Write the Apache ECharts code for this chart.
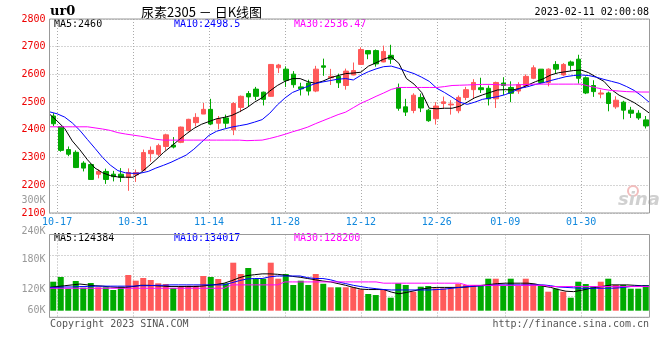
<!DOCTYPE html>
<html><head><meta charset="utf-8">
<script src="https://cdn.jsdelivr.net/npm/echarts@6/dist/echarts.min.js"></script>
<style>html,body{margin:0;padding:0;background:#fff}#c{width:660px;height:360px}</style>
</head><body><div id="c"></div>
<script>
const dates = ['10-14','10-17','10-18','10-19','10-20','10-21','10-24','10-25','10-26','10-27','10-28',
'10-31','11-01','11-02','11-03','11-04','11-07','11-08','11-09','11-10','11-11',
'11-14','11-15','11-16','11-17','11-18','11-21','11-22','11-23','11-24','11-25',
'11-28','11-29','11-30','12-01','12-02','12-05','12-06','12-07','12-08','12-09',
'12-12','12-13','12-14','12-15','12-16','12-19','12-20','12-21','12-22','12-23',
'12-26','12-27','12-28','12-29','12-30','01-03','01-04','01-05','01-06',
'01-09','01-10','01-11','01-12','01-13','01-16','01-17','01-18','01-19','01-20',
'01-30','01-31','02-01','02-02','02-03','02-06','02-07','02-08','02-09','02-10'];
const dateLabels = ['10-17','10-31','11-14','11-28','12-12','12-26','01-09','01-30'];

const opens  = [2450,2412,2329,2319,2280,2275,2240,2250,2240,2240, 2229,2238,2254,2314,2312,2340,2345,2355,2397,2426,
                2457,2474,2424,2443,2400,2481,2531,2547,2536,2521, 2624,2619,2601,2555,2569,2540,2631,2588,2593,2560,
                2598,2636,2686,2686,2645,2669,2552,2483,2470,2517, 2471,2440,2495,2490,2469,2517,2545,2552,2550,2512,
                2569,2553,2540,2560,2586,2619,2571,2636,2598,2645, 2655,2588,2560,2529,2533,2483,2500,2471,2460,2436];
const closes = [2422,2326,2312,2264,2262,2221,2250,2221,2231,2229, 2246,2246,2318,2326,2343,2382,2338,2410,2438,2445,
                2474,2421,2440,2424,2495,2521,2519,2521,2510,2636, 2634,2579,2563,2548,2540,2619,2626,2593,2570,2612,
                2614,2690,2674,2638,2683,2655,2478,2464,2525,2479, 2433,2486,2501,2493,2517,2545,2571,2545,2512,2571,
                2560,2532,2563,2593,2624,2571,2619,2619,2636,2633, 2586,2533,2538,2533,2495,2507,2471,2460,2443,2414];
const lows   = [2414,2321,2305,2262,2250,2220,2225,2205,2214,2212, 2180,2212,2251,2285,2305,2326,2333,2352,2395,2412,
                2457,2417,2402,2407,2381,2464,2486,2507,2488,2520, 2605,2555,2552,2524,2524,2536,2595,2562,2551,2545,
                2597,2634,2655,2628,2644,2638,2469,2450,2460,2464, 2429,2419,2477,2455,2460,2507,2512,2533,2488,2479,
                2526,2500,2530,2552,2583,2567,2557,2602,2595,2614, 2567,2529,2519,2514,2467,2476,2438,2443,2436,2405];
const highs  = [2460,2414,2340,2326,2287,2279,2257,2260,2252,2262, 2261,2257,2329,2340,2350,2386,2374,2412,2440,2460,
                2497,2512,2450,2455,2500,2524,2540,2555,2538,2637, 2638,2629,2612,2570,2581,2631,2657,2620,2603,2621,
                2643,2698,2688,2690,2704,2707,2567,2512,2532,2531, 2476,2500,2520,2507,2524,2555,2583,2588,2560,2574,
                2590,2575,2572,2600,2633,2619,2622,2648,2641,2650, 2671,2593,2579,2545,2538,2521,2505,2483,2471,2450];

const ma5  = [2457,2432,2405,2360,2328,2292,2262,2245,2235,2230, 2229,2229,2245,2268,2292,2318,2340,2363,2385,2405,
              2420,2430,2440,2445,2452,2465,2480,2500,2516,2540, 2560,2575,2585,2585,2574,2568,2576,2588,2596,2603,
              2605,2608,2630,2642,2655,2664,2640,2585,2565,2535, 2478,2476,2478,2478,2485,2500,2516,2526,2535,2544,
              2545,2544,2550,2562,2574,2584,2598,2606,2610,2614, 2616,2606,2590,2575,2545,2525,2512,2498,2480,2460];
const ma10 = [2465,2458,2446,2425,2398,2365,2333,2300,2273,2253, 2245,2243,2244,2250,2262,2272,2283,2296,2309,2330,
              2355,2380,2395,2403,2410,2415,2420,2428,2437,2460, 2490,2515,2535,2546,2557,2567,2573,2578,2583,2585,
              2580,2597,2610,2620,2628,2630,2622,2612,2603,2590, 2575,2550,2535,2518,2500,2492,2500,2510,2515,2520,
              2527,2538,2550,2556,2564,2570,2578,2585,2592,2596, 2598,2596,2590,2582,2575,2568,2556,2542,2522,2498.5];
const ma30 = [2411,2411,2411,2411,2411,2411,2407,2403,2398,2390, 2385,2381,2377,2372,2366,2363,2363,2363,2363,2363,
              2363,2363,2363,2363,2363,2363,2361,2362,2363,2369, 2376,2384,2393,2401,2410,2422,2433,2444,2455,2464,
              2480,2496,2508,2521,2533,2546,2553,2553,2553,2553, 2553,2553,2556,2560,2561,2562,2563,2564,2564,2563,
              2562,2562,2563,2564,2565,2565,2565,2565,2565,2565, 2565,2558,2552,2546,2542,2540,2538,2537,2536.5,2536.47];

const volumes = [128500,139600,112000,130200,114300,125400,115300,115300,108900,116700,
                 144300,130900,137300,132500,124700,123000,113600,118300,119000,119000,
                 142000,139600,134900,124700,173400,146700,160900,135600,135600,173400,
                 135600,146700,120700,130900,120700,146700,123600,115300,115300,115300,
                 115300,110500,99500,97000,110500,90700,124700,120700,104900,116700,
                 118300,112900,112900,114300,123000,120700,120700,120700,135600,135600,
                 118300,135600,118300,135600,123000,118300,104900,112000,104900,90700,
                 128500,123000,118300,128500,135600,120700,120700,112000,112000,120700];
const volMa5  = [115,117,119,121,123,121,119,118,116,115, 115,117,120,120,119,118,117,117,117,117,
                 118,120,122,125,131,138,143,145,147,147, 146,144,141,139,136,133,130,128,124,120,
                 115,111,110,110,110,104,100,103,107,111, 114,115,115,115,115,116,118,120,122,124,
                 125,125,125,125,123,118,115,110,106,105, 108,112,115,118,121,121,121,120,119,118].map(v => v * 1000);
const volMa10 = [115,115,116,116,117,117,118,118,118,118, 118,118,119,119,120,120,121,121,121,121,
                 121,121,121,121,126,131,135,136,136,140, 142,142,142,142,138,136,136,133,128,124,
                 120,117,114,112,110,109,109,109,109,109, 109,110,111,113,115,117,118,119,120,121,
                 121,121,121,121,121,121,119,116,115,114, 113,113,113,113,113,114,116,118,118,118].map(v => v * 1000);
const volMa30 = [113,113,113,113,113,113,113,113,113,113, 113,113,113,113,113,113,113,113,113,113,
                 113,113,113,113,121,121,121,121,121,121, 121,128,128,128,128,128,128,128,128,128,
                 128,128,128,128,125,125,125,125,125,125, 125,125,125,125,125,120,120,120,120,120,
                 120,120,120,120,120,120,117,117,117,117, 117,117,117,117,117,117,117,117,117,117].map(v => v * 1000);

const priceMin = 2100, priceMax = 2800, priceStep = 100;
const volMin = 60000, volMax = 240000, volStep = 60000;
const legendMain = ['MA5:2460', 'MA10:2498.5', 'MA30:2536.47'];
const legendVol = ['MA5:124384', 'MA10:134017', 'MA30:128200'];

const RED = '#ff5a5a', GREEN = '#00aa00';
const MONO = "'DejaVu Sans Mono', monospace";
const GRIDC = '#aaaaaa';
const isLabel = (i, v) => dateLabels.indexOf(v) >= 0;
const dotted = { color: GRIDC, type: [1, 2], width: 1 };

const chart = echarts.init(document.getElementById('c'), null, { renderer: 'canvas' });
const G_LEFT = 49.5, G_W = 600;
chart.setOption({
  animation: false,
  backgroundColor: '#fff',
  grid: [
    { left: G_LEFT, width: G_W, top: 19, height: 194, show: true, borderColor: '#999', borderWidth: 1, z: 5 },
    { left: G_LEFT, width: G_W, top: 234.5, height: 76.2, show: false },
    { left: G_LEFT, width: G_W, top: 234.5, height: 82.8, show: true, borderColor: '#999', borderWidth: 1, z: 5 }
  ],
  xAxis: [
    { type: 'category', gridIndex: 0, data: dates, boundaryGap: true, position: 'top', show: false },
    { type: 'category', gridIndex: 0, data: dates, boundaryGap: false, position: 'bottom',
      axisLine: { show: false }, axisTick: { show: false },
      axisLabel: { interval: isLabel, color: '#1188dd', fontFamily: MONO, fontSize: 10, margin: 4 },
      splitLine: { show: true, interval: isLabel, lineStyle: dotted } },
    { type: 'category', gridIndex: 1, data: dates, boundaryGap: true, position: 'bottom', show: false },
    { type: 'category', gridIndex: 1, data: dates, boundaryGap: false, position: 'top', show: false },
    { type: 'category', gridIndex: 2, data: dates, boundaryGap: false,
      axisLine: { show: false }, axisTick: { show: false }, axisLabel: { show: false },
      splitLine: { show: true, interval: isLabel, lineStyle: dotted } }
  ],
  yAxis: [
    { type: 'value', gridIndex: 0, min: priceMin, max: priceMax, interval: priceStep,
      axisLine: { show: false }, axisTick: { show: false },
      axisLabel: { color: '#ee0000', fontFamily: MONO, fontSize: 10, margin: 4, padding: [0, 0, 4, 0],
        formatter: v => String(v) },
      splitLine: { show: true, lineStyle: dotted } },
    { type: 'value', gridIndex: 1, min: volMin, max: volMax, interval: volStep,
      axisLine: { show: false }, axisTick: { show: false }, splitLine: { show: false },
      axisLabel: { color: '#999', fontFamily: MONO, fontSize: 10, margin: 4,
        formatter: v => {
          const t = (v / 1000) + 'K';
          if (v === volMax) return '{up|' + t + '}';
          if (v === 120000) return '{dn|' + t + '}';
          return t;
        },
        rich: {
          up: { color: '#999', fontFamily: MONO, fontSize: 10, padding: [0, 0, 7, 0] },
          dn: { color: '#999', fontFamily: MONO, fontSize: 10, padding: [9, 0, 0, 0] }
        } } },
    { type: 'value', gridIndex: 2, min: 0, max: 4, interval: 1,
      axisLine: { show: false }, axisTick: { show: false }, axisLabel: { show: false },
      splitLine: { show: true, lineStyle: dotted } }
  ],
  series: [
    { type: 'candlestick', xAxisIndex: 0, yAxisIndex: 0, barWidth: 5,
      data: dates.map((d, i) => [opens[i], closes[i], lows[i], highs[i]]),
      itemStyle: { color: RED, color0: GREEN, borderColor: RED, borderColor0: GREEN, borderWidth: 1 } },
    { type: 'line', xAxisIndex: 1, yAxisIndex: 0, data: ma5, symbol: 'none', lineStyle: { width: 1, color: '#000' }, z: 4 },
    { type: 'line', xAxisIndex: 1, yAxisIndex: 0, data: ma10, symbol: 'none', lineStyle: { width: 1, color: '#0000ff' }, z: 4 },
    { type: 'line', xAxisIndex: 1, yAxisIndex: 0, data: ma30, symbol: 'none', lineStyle: { width: 1, color: '#ff00ff' }, z: 4 },
    { type: 'bar', xAxisIndex: 2, yAxisIndex: 1, barWidth: 6, clip: true, data: volumes,
      itemStyle: { color: p => closes[p.dataIndex] >= opens[p.dataIndex] ? RED : GREEN } },
    { type: 'line', xAxisIndex: 3, yAxisIndex: 1, data: volMa5, symbol: 'none', lineStyle: { width: 1, color: '#000' }, z: 4 },
    { type: 'line', xAxisIndex: 3, yAxisIndex: 1, data: volMa10, symbol: 'none', lineStyle: { width: 1, color: '#0000ff' }, z: 4 },
    { type: 'line', xAxisIndex: 3, yAxisIndex: 1, data: volMa30, symbol: 'none', lineStyle: { width: 1, color: '#ff00ff' }, z: 4 }
  ],
  graphic: [
    { type: 'text', x: 50, y: 12, style: { text: 'ur0', fill: '#000', font: "bold 13px 'DejaVu Serif', serif", textVerticalAlign: 'middle' } },
    { type: 'text', x: 141, y: 12, style: { text: '尿素2305 － 日K线图', fill: '#000', font: "13px 'Noto Sans CJK SC', sans-serif", textVerticalAlign: 'middle' } },
    { type: 'text', x: 649, y: 12, style: { text: '2023-02-11 02:00:08', fill: '#000', font: '10px ' + MONO, textAlign: 'right', textVerticalAlign: 'middle' } },
    { type: 'text', x: 54, y: 24, style: { text: legendMain[0], fill: '#000', font: '10px ' + MONO, textVerticalAlign: 'middle' } },
    { type: 'text', x: 174, y: 24, style: { text: legendMain[1], fill: '#0000ff', font: '10px ' + MONO, textVerticalAlign: 'middle' } },
    { type: 'text', x: 294, y: 24, style: { text: legendMain[2], fill: '#ff00ff', font: '10px ' + MONO, textVerticalAlign: 'middle' } },
    { type: 'text', x: 54, y: 238.5, style: { text: legendVol[0], fill: '#000', font: '10px ' + MONO, textVerticalAlign: 'middle' } },
    { type: 'text', x: 174, y: 238.5, style: { text: legendVol[1], fill: '#0000ff', font: '10px ' + MONO, textVerticalAlign: 'middle' } },
    { type: 'text', x: 294, y: 238.5, style: { text: legendVol[2], fill: '#ff00ff', font: '10px ' + MONO, textVerticalAlign: 'middle' } },
    { type: 'text', x: 45.5, y: 200, style: { text: '300K', fill: '#999', font: '10px ' + MONO, textAlign: 'right', textVerticalAlign: 'middle' } },
    { type: 'text', x: 50, y: 324, style: { text: 'Copyright 2023 SINA.COM', fill: '#555', font: '10px ' + MONO, textVerticalAlign: 'middle' } },
    { type: 'text', x: 649, y: 324, style: { text: 'http://finance.sina.com.cn', fill: '#555', font: '10px ' + MONO, textAlign: 'right', textVerticalAlign: 'middle' } },
    { type: 'circle', shape: { cx: 633, cy: 191, r: 5 }, style: { fill: 'none', stroke: '#f2bcbc', lineWidth: 2 }, z: 1 },
    { type: 'text', x: 618, y: 200, z: 1, style: { text: 'sina', fill: '#d0d0d0', font: "italic bold 18px 'DejaVu Sans', sans-serif", textVerticalAlign: 'middle' } }
  ]
});
</script>
</body></html>
